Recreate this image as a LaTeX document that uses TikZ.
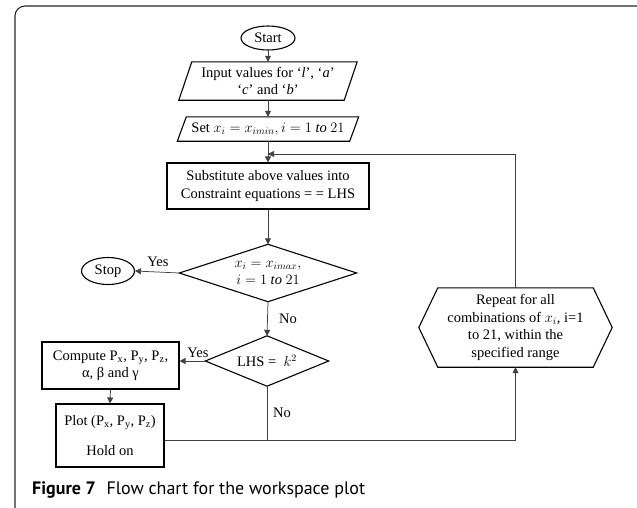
\documentclass[tikz,border=0pt]{standalone}
\usepackage{fontspec}
\setmainfont{Liberation Serif}
\newfontfamily\capfont{PT Sans}
\usetikzlibrary{arrows.meta,calc,shapes.geometric}
\begin{document}
\begin{tikzpicture}[x=1pt,y=-1pt,
  txt/.style={font=\fontsize{14.5}{17.5}\selectfont},
  shell/.style={txt,align=center,inner sep=0pt},
  boxed/.style={shell,draw,line width=1.1pt},
  term/.style={shell,draw,ellipse,line width=1.1pt},
  outline/.style={line width=1.1pt,line join=miter},
  conn/.style={line width=0.75pt,black!75},
  arr/.style={conn,-{Triangle[length=6pt,width=6pt]}},
  lbl/.style={txt,inner sep=0pt}]
\useasboundingbox (0,0) rectangle (637,507);
\clip (0,0) rectangle (637,507);
% frame round the figure
\draw[line width=1.1pt,black!85,rounded corners=10pt] (15,540) -- (15,6) -- (650,6) -- (650,540);

% nodes
\node[term,minimum width=54pt,minimum height=24pt] (start) at (268,38) {Start};
\node[shell,minimum width=178pt,minimum height=38pt] (input) at (268,81)
  {Input values for ‘\textit{l}’, ‘\textit{a}’\\‘\textit{c}’ and ‘\textit{b}’};
\node[shell,minimum width=181pt,minimum height=24pt] (set) at (268,129)
  {Set $x_i = x_{imin}, i = 1\ \mathit{to}\ 21$};
\node[boxed,minimum width=202pt,minimum height=46pt] (sub) at (268,186)
  {Substitute above values into\\Constraint equations = = LHS};
\node[shell,minimum width=177pt,minimum height=57pt] (d1) at (268,273)
  {$x_i = x_{imax},$\\$i = 1\ \mathit{to}\ 21$};
\node[term,minimum width=53pt,minimum height=27pt] (stop) at (108,271) {Stop};
\node[shell,minimum width=123pt,minimum height=50pt] (d2) at (267,361)
  {LHS =\ \ $k^2$};
\node[boxed,minimum width=137pt,minimum height=47pt] (comp) at (110.5,365.5)
  {Compute P\textsubscript{x}, P\textsubscript{y}, P\textsubscript{z},\\α, β and γ};
\node[boxed,minimum width=108pt,minimum height=63pt,align=center] (plot) at (110,435.5)
  {Plot (P\textsubscript{x}, P\textsubscript{y}, P\textsubscript{z})\\[12pt]Hold on};
\node[shell,minimum width=193pt,minimum height=79pt] (rep) at (515.5,327.5)
  {Repeat for all\\combinations of $x_i$, i=1\\to 21, within the\\specified range};

% outlines of the slanted and pointed shapes
\draw[outline] (input.south west) -- ($(input.north west)+(13,0)$) -- (input.north east)
  -- ($(input.south east)+(-13,0)$) -- cycle;
\draw[outline] (set.south west) -- ($(set.north west)+(9,0)$) -- (set.north east)
  -- ($(set.south east)+(-9,0)$) -- cycle;
\draw[outline] (d1.west) -- (d1.north) -- (d1.east) -- (d1.south) -- cycle;
\draw[outline] (d2.west) -- (d2.north) -- (d2.east) -- (d2.south) -- cycle;
\draw[outline] (rep.west) -- ($(rep.north west)+(19,0)$) -- ($(rep.north east)+(-19,0)$)
  -- (rep.east) -- ($(rep.south east)+(-19,0)$) -- ($(rep.south west)+(19,0)$) -- cycle;

% connectors
\coordinate (loopin) at (268,154);
\coordinate (jn) at (267,440);
\coordinate (jr) at (515.5,440);
\draw[arr] (start.south) -- (input.north);
\draw[arr] (input.south) -- (set.north);
\draw[arr] (set.south) -- (sub.north);
\draw[arr] (sub.south) -- (d1.north);
\draw[arr] (d1.west) -- (stop.east);
\draw[arr] (d1.south) -- (d2.north);
\draw[arr] (d2.west) -- (d2.west -| comp.east);
\draw[arr] (comp.south) -- (plot.north);
\draw[conn] (d2.south) -- (jn);
\draw[arr] (plot.east |- jn) -- (jr) -- (rep.south);
\draw[arr] (rep.north) |- (loopin);

% branch labels
\node[lbl] (y1) at (158,262) {Yes};
\node[lbl] (n1) at (288,319) {No};
\node[lbl] (y2) at (198,353) {Yes};
\node[lbl] (n2) at (282,413) {No};

% caption
\node[anchor=west,inner sep=0pt,font=\capfont\fontsize{18}{20}\selectfont] (cap) at (32,490)
  {\textbf{Figure 7}\hspace{0.6em}Flow chart for the workspace plot};
\end{tikzpicture}
\end{document}
